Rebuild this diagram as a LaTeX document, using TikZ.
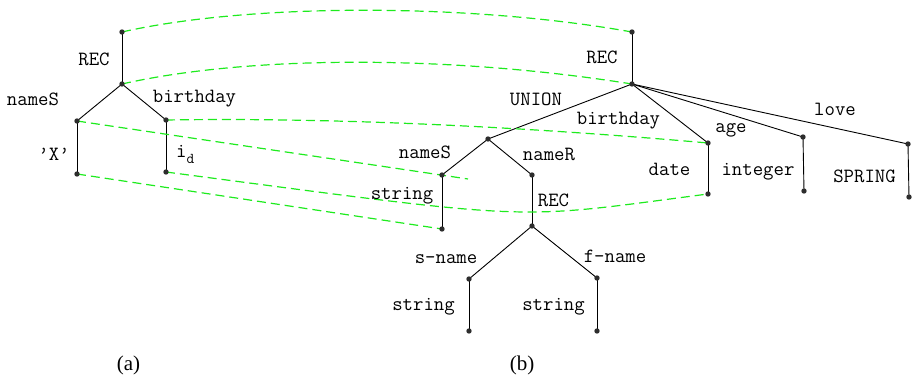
\documentclass[tikz,border=0pt]{standalone}
\usepackage{fontspec}
\setmainfont{Liberation Serif}
\usetikzlibrary{backgrounds}
\definecolor{corrgreen}{RGB}{30,235,30}
\definecolor{dotgray}{RGB}{45,45,45}
\begin{document}
\begin{tikzpicture}[x=1pt,y=-1pt,
  dot/.style={circle,fill=dotgray,inner sep=0pt,minimum size=5.4pt},
  edge/.style={line width=0.9pt,black},
  corr/.style={line width=1.2pt,corrgreen,dash pattern=on 9pt off 5pt},
  lbl/.style={inner sep=0pt,anchor=base,font=\fontsize{20.2}{22}\selectfont\ttfamily},
  captxt/.style={inner sep=0pt,anchor=base,font=\fontsize{21}{24}\selectfont}]
\useasboundingbox (0,0) rectangle (914,380);
% ---------- tree (a) ----------
\node[dot] (a0) at (122,32) {};
\node[dot] (a1) at (122,84) {};
\node[dot] (a2) at (77,121) {};
\node[dot] (a3) at (166,120) {};
\node[dot] (a4) at (77,174) {};
\node[dot] (a5) at (166,172) {};
% ---------- tree (b) ----------
\node[dot] (b0) at (632,32) {};
\node[dot] (b1) at (632,84) {};
\node[dot] (b2) at (488,139) {};
\node[dot] (b3) at (442,175) {};
\node[dot] (b4) at (442,229) {};
\node[dot] (b5) at (532,175) {};
\node[dot] (b6) at (532,226) {};
\node[dot] (b7) at (469,279) {};
\node[dot] (b8) at (469,331) {};
\node[dot] (b9) at (597,278) {};
\node[dot] (b10) at (597,331) {};
\node[dot] (b11) at (708,143) {};
\node[dot] (b12) at (708,194) {};
\node[dot] (b13) at (803,137) {};
\node[dot] (b14) at (804,191) {};
\node[dot] (b15) at (908,144) {};
\node[dot] (b16) at (909,197) {};
\coordinate (e3) at (468,179);
\begin{scope}[on background layer]
% ---------- edges ----------
\draw[edge] (a0.center) -- (a1.center);
\draw[edge] (a1.center) -- (a2.center);
\draw[edge] (a1.center) -- (a3.center);
\draw[edge] (a2.center) -- (a4.center);
\draw[edge] (a3.center) -- (a5.center);
\draw[edge] (b0.center) -- (b1.center);
\draw[edge] (b1.center) -- (b2.center);
\draw[edge] (b2.center) -- (b3.center);
\draw[edge] (b3.center) -- (b4.center);
\draw[edge] (b2.center) -- (b5.center);
\draw[edge] (b5.center) -- (b6.center);
\draw[edge] (b6.center) -- (b7.center);
\draw[edge] (b7.center) -- (b8.center);
\draw[edge] (b6.center) -- (b9.center);
\draw[edge] (b9.center) -- (b10.center);
\draw[edge] (b1.center) -- (b11.center);
\draw[edge] (b11.center) -- (b12.center);
\draw[edge] (b1.center) -- (b13.center);
\draw[edge] (b13.center) -- (b14.center);
\draw[edge] (b1.center) -- (b15.center);
\draw[edge] (b15.center) -- (b16.center);
% ---------- correspondences ----------
\draw[corr] (a0.center) .. controls (250,3) and (470,3) .. (b0.center);
\draw[corr] (a1.center) .. controls (250,55) and (450,55) .. (b1.center);
\draw[corr] (a2.center) -- (e3);
\draw[corr] (a3.center) .. controls (350,117) and (550,129) .. (b11.center);
\draw[corr] (a5.center) .. controls (546,222) and (508,220) .. (b12.center);
\draw[corr] (a4.center) -- (b4.center);
\end{scope}
% ---------- labels (a) ----------
\node[lbl] (lA1) at (94,65) {REC};
\node[lbl] (lA2) at (33,105) {nameS};
\node[lbl] (lA3) at (194.5,102) {birthday};
\node[lbl] (lA4) at (54,160) {’X’};
\node[lbl,anchor=base west] (lA5) at (176,157) {i\raisebox{-6pt}{\fontsize{15}{15}\selectfont d}};
% ---------- labels (b) ----------
\node[lbl] (lB1) at (602,63) {REC};
\node[lbl] (lB2) at (536,105) {UNION};
\node[lbl] (lB3) at (618.5,124) {birthday};
\node[lbl] (lB4) at (425,158) {nameS};
\node[lbl] (lB5) at (549,160) {nameR};
\node[lbl] (lB6) at (402,199) {string};
\node[lbl] (lB7) at (553.5,206.5) {REC};
\node[lbl] (lB8) at (835,115) {love};
\node[lbl] (lB9) at (731,132.5) {age};
\node[lbl] (lB10) at (669.5,175) {date};
\node[lbl] (lB11) at (758,175) {integer};
\node[lbl] (lB12) at (864.5,182.5) {SPRING};
\node[lbl] (lB13) at (446,263) {s-name};
\node[lbl] (lB14) at (615,262) {f-name};
\node[lbl] (lB15) at (423.5,310) {string};
\node[lbl] (lB16) at (553.5,310) {string};
% ---------- captions ----------
\node[captxt] (capa) at (128.5,370) {(a)};
\node[captxt] (capb) at (522,370) {(b)};
\end{tikzpicture}
\end{document}
